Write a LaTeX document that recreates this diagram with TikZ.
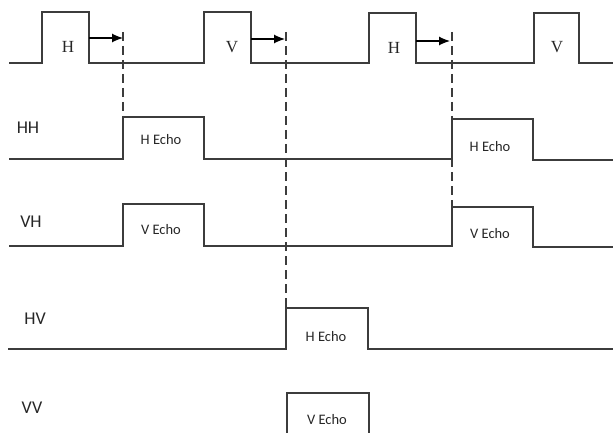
\documentclass[tikz,border=0pt]{standalone}
\usepackage{fontspec}
\setmainfont{Liberation Serif}
\newfontfamily\calib{Carlito}
\usetikzlibrary{arrows.meta}
\definecolor{sig}{HTML}{3C3C3C}
\tikzset{
  wave/.style={draw=sig, line width=1.3pt, line join=miter},
  guide/.style={draw=sig, line width=1.2pt, dash pattern=on 9pt off 5pt},
  delay/.style={draw=black, line width=1.2pt, -{Latex[length=11pt,width=9pt]}},
  chan/.style={font=\calib\fontsize{18}{20}\selectfont, text=black!85, inner sep=0pt},
  echo/.style={font=\calib\fontsize{14.5}{16}\selectfont, text=black!85, inner sep=0pt},
  pol/.style={font=\fontsize{17}{19}\selectfont, text=black!85, inner sep=0pt}
}
\begin{document}
\begin{tikzpicture}[x=1pt,y=-1pt]
\useasboundingbox (0,0) rectangle (613,433);
% transmitted pulses
\draw[wave] (9,63) -- (42,63) -- (42,12) -- (89,12) -- (89,63) -- (204,63) -- (204,12) -- (251,12) -- (251,63)
  -- (369,63) -- (369,13) -- (416,13) -- (416,63) -- (534,63) -- (534,13) -- (579,13) -- (579,63) -- (613,63);
\node[pol] (tx1) at (68,47) {H};
\node[pol] (tx2) at (232,47) {V};
\node[pol] (tx3) at (394,48) {H};
\node[pol] (tx4) at (557,47) {V};
% delay arrows
\coordinate (a1s) at (89,38);  \coordinate (a1e) at (123,38);
\coordinate (a2s) at (251,39); \coordinate (a2e) at (285,39);
\coordinate (a3s) at (416,41); \coordinate (a3e) at (450,41);
\draw[delay] (a1s) -- (a1e);
\draw[delay] (a2s) -- (a2e);
\draw[delay] (a3s) -- (a3e);
% dashed guides
\coordinate (g1t) at (123,32); \coordinate (g1b) at (123,117);
\coordinate (g2t) at (286,32); \coordinate (g2b) at (286,308);
\coordinate (g3t) at (452,32); \coordinate (g3b) at (452,207);
\draw[guide] (g1t) -- (g1b);
\draw[guide] (g2t) -- (g2b);
\draw[guide] (g3t) -- (g3b);
% HH
\draw[wave] (9,159) -- (123,159) -- (123,117) -- (204,117) -- (204,159) -- (452,159) -- (452,119) -- (533,119) -- (533,160) -- (613,160);
\node[chan] (lhh) at (28,128) {HH};
\node[echo] (e1) at (161,140) {H Echo};
\node[echo] (e2) at (490,147) {H Echo};
% VH
\draw[wave] (9,246) -- (123,246) -- (123,204) -- (204,204) -- (204,246) -- (452,246) -- (452,207) -- (533,207) -- (533,247) -- (613,247);
\node[chan] (lvh) at (31,222) {VH};
\node[echo] (e3) at (161,230) {V Echo};
\node[echo] (e4) at (490,234) {V Echo};
% HV
\draw[wave] (8,349) -- (286,349) -- (286,308) -- (368,308) -- (368,349) -- (613,349);
\node[chan] (lhv) at (35,319) {HV};
\node[echo] (e5) at (326,337) {H Echo};
% VV
\draw[wave] (287,436) -- (287,393) -- (369,393) -- (369,436);
\node[chan] (lvv) at (32,408) {VV};
\node[echo] (e6) at (327,420) {V Echo};
\end{tikzpicture}
\end{document}
